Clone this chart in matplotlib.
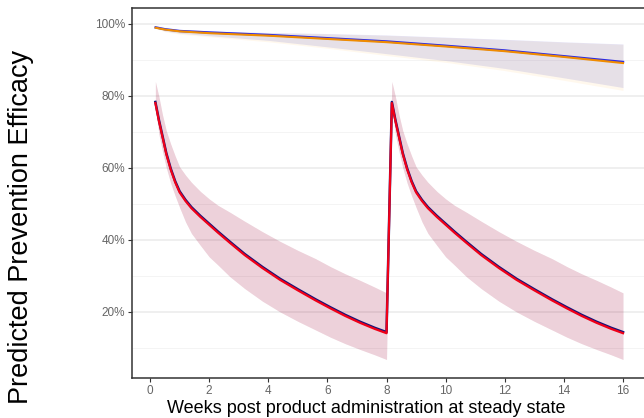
import numpy as np
import matplotlib
matplotlib.use("Agg")
from matplotlib import pyplot as plt
from matplotlib.ticker import MultipleLocator, FuncFormatter

plt.rcParams['font.family'] = ['Liberation Sans', 'DejaVu Sans']

# upper scenario (blue and orange model runs)
weeks_hi = [0.19, 0.5, 1.0, 2, 4, 6, 8, 10, 12, 14, 16]
blue_hi = [99.0, 98.5, 98.0, 97.6, 96.9, 96.0, 95.1, 93.9, 92.6, 91.0, 89.4]
blue_hi_q_up = [99.1, 98.8, 98.4, 98.0, 97.6, 97.3, 96.9, 96.3, 95.7, 95.0, 94.4]
blue_hi_q_lo = [98.9, 98.0, 97.4, 96.7, 95.4, 93.6, 91.7, 89.8, 87.6, 85.0, 82.3]
orange_hi = [98.9, 98.4, 97.9, 97.4, 96.7, 95.8, 94.9, 93.7, 92.4, 90.8, 89.1]
orange_hi_q_up = [99.0, 98.7, 98.3, 97.9, 97.5, 97.2, 96.8, 96.2, 95.6, 94.9, 94.3]
orange_hi_q_lo = [98.7, 97.8, 97.1, 96.4, 95.0, 93.2, 91.2, 89.3, 87.0, 84.3, 81.5]

# lower scenario (navy and red model runs), re-dosed at week 8
weeks_lo = [0.18, 0.3, 0.42, 0.55, 0.7, 0.85, 1.0, 1.2, 1.4, 1.7, 2.0, 2.3, 2.7,
            3.2, 3.8, 4.4, 5.0, 5.6, 6.1, 6.6, 7.1, 7.6, 8.0,
            8.18, 8.3, 8.42, 8.55, 8.7, 8.85, 9.0, 9.2, 9.4, 9.7, 10.0, 10.3, 10.7,
            11.2, 11.8, 12.4, 13.0, 13.6, 14.1, 14.6, 15.1, 15.6, 16.0]
red_lo = [78.0, 73.0, 68.6, 63.8, 59.5, 56.0, 53.2, 50.8, 48.8, 46.4, 44.2, 42.0, 39.2,
          35.8, 32.2, 28.9, 26.0, 23.2, 21.0, 18.9, 17.0, 15.3, 14.1,
          78.0, 73.0, 68.6, 63.8, 59.5, 56.0, 53.2, 50.8, 48.8, 46.4, 44.2, 42.0, 39.2,
          35.8, 32.2, 28.9, 26.0, 23.2, 21.0, 18.9, 17.0, 15.3, 14.1]
navy_lo = [78.3, 73.3, 68.9, 64.1, 59.8, 56.3, 53.5, 51.1, 49.1, 46.7, 44.5, 42.3, 39.5,
           36.1, 32.5, 29.2, 26.3, 23.5, 21.3, 19.2, 17.3, 15.6, 14.4,
           78.3, 73.3, 68.9, 64.1, 59.8, 56.3, 53.5, 51.1, 49.1, 46.7, 44.5, 42.3, 39.5,
           36.1, 32.5, 29.2, 26.3, 23.5, 21.3, 19.2, 17.3, 15.6, 14.4]
lo_q_up = [84.0, 79.8, 74.8, 70.3, 66.6, 63.3, 60.3, 58.0, 56.0, 53.5, 51.4, 49.6, 47.7,
           45.2, 42.3, 39.6, 37.1, 34.8, 32.6, 30.6, 28.8, 26.9, 25.3,
           84.0, 79.8, 74.8, 70.3, 66.6, 63.3, 60.3, 58.0, 56.0, 53.5, 51.4, 49.6, 47.7,
           45.2, 42.3, 39.6, 37.1, 34.8, 32.6, 30.6, 28.8, 26.9, 25.3]
lo_q_lo = [77.0, 69.3, 64.6, 60.0, 55.7, 52.2, 49.0, 45.0, 41.8, 38.5, 35.3, 33.0, 29.8,
           26.5, 23.0, 20.0, 17.4, 15.0, 13.0, 11.2, 9.6, 8.1, 6.8,
           77.0, 69.3, 64.6, 60.0, 55.7, 52.2, 49.0, 45.0, 41.8, 38.5, 35.3, 33.0, 29.8,
           26.5, 23.0, 20.0, 17.4, 15.0, 13.0, 11.2, 9.6, 8.1, 6.8]

fig = plt.figure(figsize=(6.44, 4.18), dpi=100)
ax = fig.add_axes([0.205, 0.096, 0.795, 0.885])

ax.fill_between(weeks_hi, blue_hi_q_lo, blue_hi_q_up, color='#0000cd', alpha=0.1, lw=0)
ax.fill_between(weeks_hi, orange_hi_q_lo, orange_hi_q_up, color='#ffa000', alpha=0.07, lw=0)
ax.fill_between(weeks_lo, lo_q_lo, lo_q_up, color='#000080', alpha=0.08, lw=0)
ax.fill_between(weeks_lo, lo_q_lo, lo_q_up, color='#ff0000', alpha=0.11, lw=0)

ax.plot(weeks_hi, blue_hi, color='#2a2ae6', lw=1.7)
ax.plot(weeks_hi, orange_hi, color='#f08c00', lw=1.5)
ax.plot(weeks_lo, navy_lo, color='#14147a', lw=1.8)
ax.plot(weeks_lo, red_lo, color='#f00018', lw=1.6)

ax.set_xlim(-0.61, 16.71)
ax.set_ylim(1.7, 104.4)
ax.xaxis.set_major_locator(MultipleLocator(2))
ax.set_yticks([20, 40, 60, 80, 100])
ax.yaxis.set_minor_locator(MultipleLocator(20, offset=10))
ax.yaxis.set_major_formatter(FuncFormatter(lambda v, p: f'{v:.0f}%'))
ax.grid(axis='y', which='major', color='#ebebeb', lw=1.1)
ax.grid(axis='y', which='minor', color='#f2f2f2', lw=0.6)
ax.set_axisbelow(True)

for s in ['left', 'bottom', 'top']:
    ax.spines[s].set_color('#333333')
    ax.spines[s].set_linewidth(1.1)
ax.spines['right'].set_visible(False)
ax.tick_params(axis='both', which='major', colors='#333333', labelcolor='#666666',
               labelsize=8.5, length=3, width=0.8, pad=2)
ax.tick_params(axis='y', which='minor', length=0)

fig.text(0.568, 0.012, 'Weeks post product administration at steady state', fontsize=13,
         ha='center', va='baseline')
fig.text(0.033, 0.456, 'Predicted Prevention Efficacy', rotation=90, fontsize=19.5,
         ha='center', va='center')

fig.savefig('out.png', dpi=100)
